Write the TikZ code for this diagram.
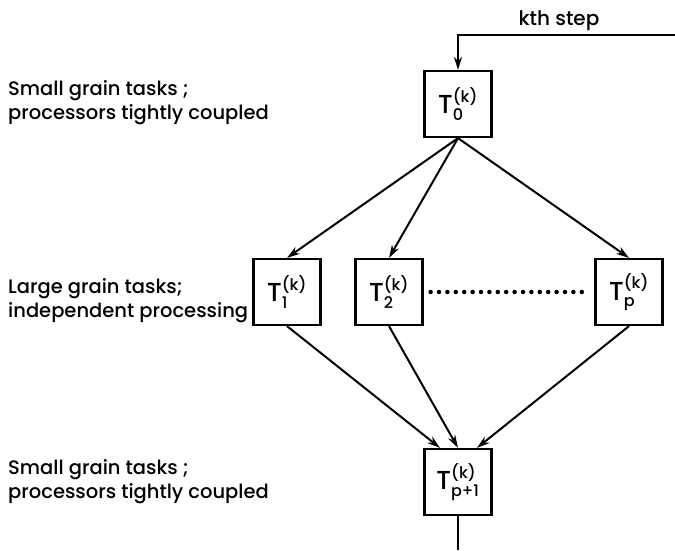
\documentclass[tikz,border=0pt]{standalone}
\usepackage{amsmath}
\usepackage{fontspec}
\setmainfont{Poppins}[UprightFont=* Medium]
\usetikzlibrary{arrows.meta}
\DeclareMathSizes{26}{26}{16}{11}
\tikzstyle{arrow} = [line width=2pt,->,>={Stealth[length=13pt,width=8pt]}]
\tikzstyle{task} = [rectangle, draw=black, line width=2.2pt, minimum width=67pt, minimum height=66pt, inner sep=0pt, font=\fontsize{26}{30}\selectfont]
\tikzstyle{lbl} = [anchor=west, align=left, inner sep=0pt, font=\fontsize{19.5}{24}\selectfont]
\newcommand{\tsk}[1]{$\text{T}^{\text{(k)}}_{\text{#1}}$}

\begin{document}
\begin{tikzpicture}[x=1pt, y=1pt, node distance=188pt]
		\useasboundingbox (0,0) rectangle (675,-550);
		\node (t0) [task] at (458,-104) {\tsk{0}};
		\node (t2) [task, below of=t0, xshift=-69pt] {\tsk{2}};
		\node (t1) [task, left of=t2, node distance=102pt] {\tsk{1}};
		\node (tp) [task, right of=t2, node distance=240pt] {\tsk{p}};
		\node (tq) [task, below of=t0, node distance=378pt] {\tsk{p+1}};
		\node (kth) [font=\fontsize{20}{24}\selectfont] at (559,-21) {kth step};
		\coordinate (ret) at (675,-35);
		\draw [arrow] (ret) -| (t0.north);
		\draw [arrow] (t0.south) -- (t1.north);
		\draw [arrow] (t0.south) -- (t2.north);
		\draw [arrow] (t0.south) -- (tp.north);
		\draw [line width=4.5pt, line cap=round, dash pattern=on 0pt off 8.4pt] ([xshift=7pt]t2.east) -- ([xshift=-6pt]tp.west);
		\draw [arrow] (t1.south) -- ([xshift=-18pt]tq.north);
		\draw [arrow] (t2.south) -- (tq.north);
		\draw [arrow] (tp.south) -- ([xshift=19pt]tq.north);
		\coordinate (out) at (458,-550);
		\draw [line width=2pt] (tq.south) -- (out);
		\node (l0) [lbl] at (8,-103) {Small grain tasks ;\\processors tightly coupled};
		\node (l1) [lbl] at (8,-301) {Large grain tasks;\\independent processing};
		\node (l2) [lbl] at (8,-482) {Small grain tasks ;\\processors tightly coupled};
\end{tikzpicture}
\end{document}
